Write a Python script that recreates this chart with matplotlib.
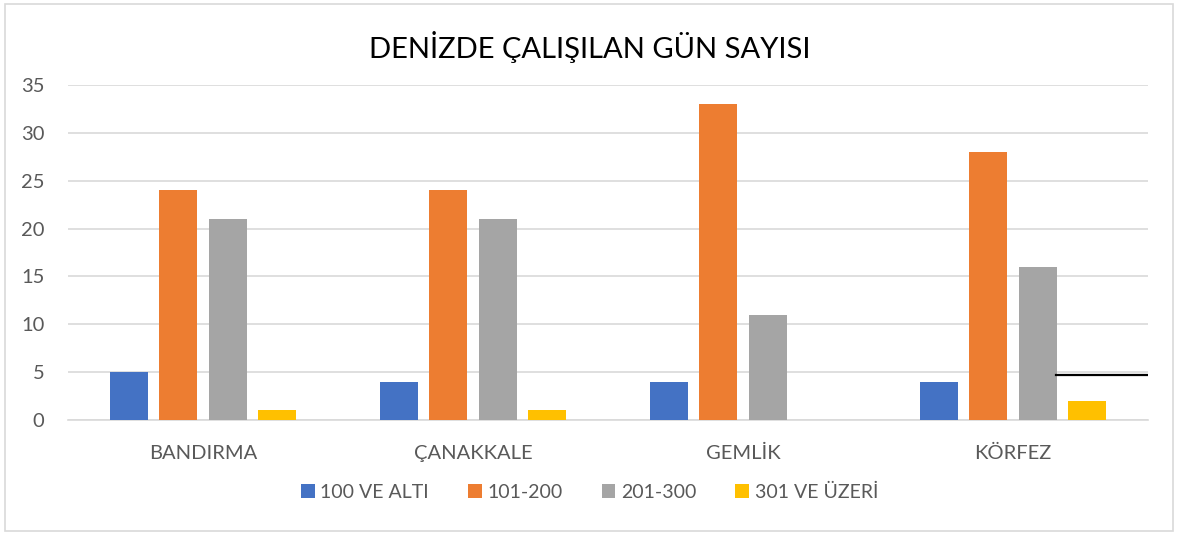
import matplotlib.pyplot as plt
import numpy as np
from matplotlib.patches import Rectangle

categories = ["BANDIRMA", "ÇANAKKALE", "GEMLİK", "KÖRFEZ"]
series_names = ["100 VE ALTI", "101-200", "201-300", "301 VE ÜZERİ"]
v_100_alti = [5, 4, 4, 4]
v_101_200 = [24, 24, 33, 28]
v_201_300 = [21, 21, 11, 16]
v_301_uzeri = [1, 1, 0, 2]
colors = ["#4472c4", "#ed7d31", "#a5a5a5", "#ffc000"]

# stray line drawn over the KÖRFEZ group in the original
stray_x = [3.16, 3.5]
stray_y = [4.7, 4.7]


def main():
    plt.rcParams["font.family"] = ["Lato", "DejaVu Sans"]
    fig = plt.figure(figsize=(11.79, 5.35), dpi=100)
    ax = fig.add_axes([0.0577, 0.215, 0.916, 0.626])

    x = np.arange(len(categories))
    width = 0.141
    step = 0.183
    all_vals = [v_100_alti, v_101_200, v_201_300, v_301_uzeri]
    for i, (name, vals) in enumerate(zip(series_names, all_vals)):
        ax.bar(x + (i - 1.5) * step, vals, width, label=name, color=colors[i], zorder=3)

    ax.plot(stray_x, stray_y, color="black", lw=1.6, zorder=4)

    ax.set_xlim(-0.5, 3.5)
    ax.set_ylim(0, 35)
    ax.set_yticks(range(0, 36, 5))
    ax.set_xticks(x, categories)
    ax.tick_params(axis="both", length=0, labelsize=14.5, colors="#595959")
    ax.tick_params(axis="x", pad=18)
    ax.tick_params(axis="y", pad=17)
    ax.grid(axis="y", color="#d9d9d9", lw=1.2, zorder=0)
    for s in ["top", "right", "left"]:
        ax.spines[s].set_visible(False)
    ax.spines["bottom"].set_color("#d9d9d9")
    ax.spines["bottom"].set_linewidth(1.2)

    fig.text(0.5, 0.912, "DENİZDE ÇALIŞILAN GÜN SAYISI", ha="center", va="center",
             fontsize=21, color="#000000")

    fig.legend(loc="center", bbox_to_anchor=(0.5, 0.08), ncol=4, frameon=False,
               fontsize=14, handlelength=0.7, handleheight=0.7, handletextpad=0.3,
               columnspacing=2.0, labelcolor="#595959")

    fig.patches.append(Rectangle((0.004, 0.008), 0.991, 0.985, transform=fig.transFigure,
                                 fill=False, edgecolor="#d9d9d9", lw=1.2))

    fig.savefig("out.png", dpi=100)


if __name__ == "__main__":
    main()
